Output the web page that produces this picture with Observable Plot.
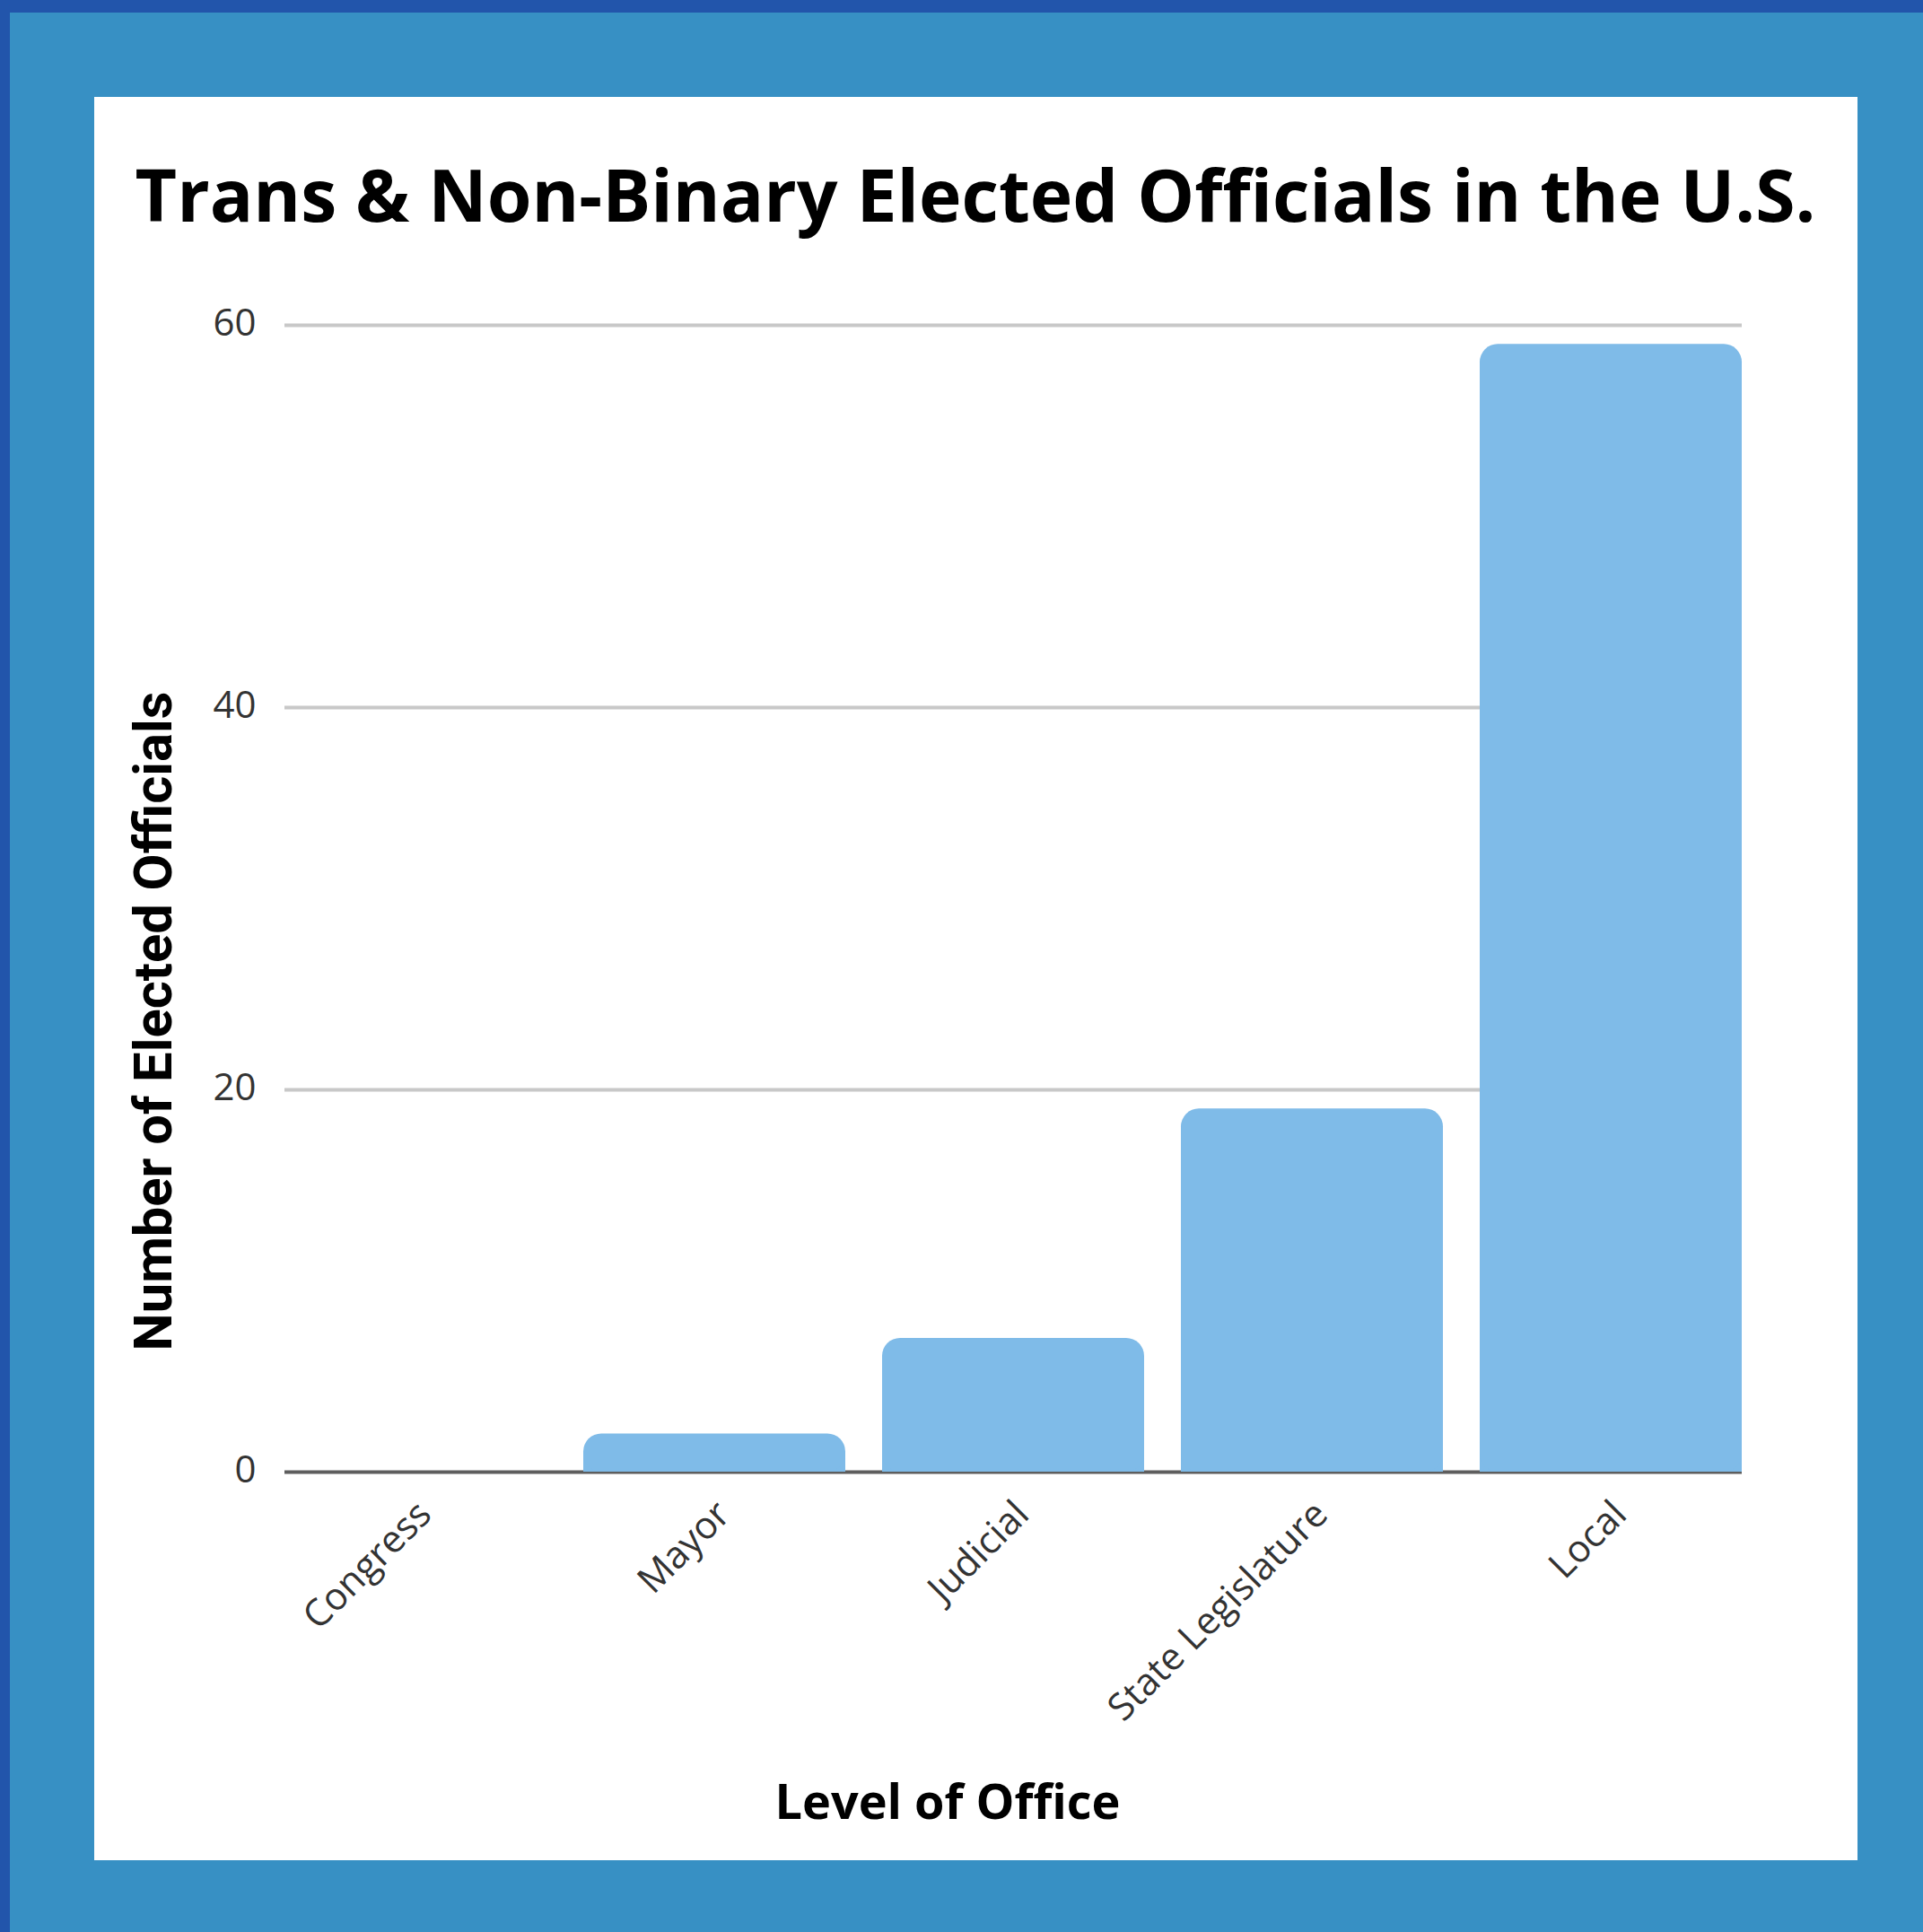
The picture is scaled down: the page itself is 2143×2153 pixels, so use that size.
<!DOCTYPE html>
<html><head><meta charset="utf-8">
<script src="https://cdn.jsdelivr.net/npm/d3@7"></script>
<script src="https://cdn.jsdelivr.net/npm/@observablehq/plot@0.6"></script>
<style>
html,body{margin:0;padding:0;}
body{width:2143px;height:2153px;background:#3790c4;position:relative;overflow:hidden;}
#topbar{position:absolute;left:0;top:0;width:2143px;height:14px;background:#2255ab;}
#leftbar{position:absolute;left:0;top:0;width:11px;height:2153px;background:#2255ab;}
#panel{position:absolute;left:105px;top:108px;width:1965px;height:1965px;background:#fff;}
#chart{position:absolute;left:0;top:0;}
#labels{position:absolute;left:0;top:0;pointer-events:none;}
</style></head><body>
<div id="topbar"></div><div id="leftbar"></div><div id="panel"></div>
<div id="chart"></div>
<script>
const categories = ["Congress", "Mayor", "Judicial", "State Legislature", "Local"];
const counts = [0, 2, 7, 19, 59];
const yTicks = [0, 20, 40, 60];
const titleText = "Trans & Non-Binary Elected Officials in the U.S.";
const xLabelText = "Level of Office";
const yLabelText = "Number of Elected Officials";

const data = categories.map((c, i) => ({category: c, count: counts[i]}));
const barColor = "#7fbbe8";

const chart = Plot.plot({
  width: 2143,
  height: 2153,
  marginLeft: 317,
  marginRight: 202,
  marginTop: 362,
  marginBottom: 513,
  x: {domain: categories, paddingInner: 0.124, paddingOuter: 0, label: null},
  y: {domain: [0, 60], label: null},
  style: {background: "transparent", fontFamily: "'Open Sans', sans-serif", color: "#333"},
  marks: [
    Plot.ruleY(yTicks.filter(t => t > 0), {stroke: "#c8c8c8", strokeWidth: 4}),
    Plot.ruleY([0], {stroke: "#5e5e5e", strokeWidth: 4}),
    Plot.barY(data.filter(d => d.count > 0), {x: "category", y1: 0, y2: d => Math.max(0, d.count - 1), fill: barColor}),
    Plot.barY(data.filter(d => d.count > 0), {x: "category", y: "count", fill: barColor, rx: 20}),
    Plot.axisY({ticks: yTicks, tickSize: 0, tickPadding: 32, fontSize: 42, dy: -2, label: null}),
    Plot.axisX({tickRotate: -45, tickSize: 0, tickPadding: 40, fontSize: 42, dx: 10, label: null})
  ]
});
document.getElementById("chart").appendChild(chart);

const svg = d3.select("body").append("svg").attr("id", "labels")
  .attr("width", 2143).attr("height", 2153);

function fitText(sel, target) {
  const len = sel.node().getComputedTextLength();
  const fs = parseFloat(sel.attr("font-size"));
  sel.attr("font-size", fs * target / len);
}

const t = svg.append("text").text(titleText)
  .attr("x", 1087).attr("y", 247).attr("text-anchor", "middle")
  .attr("font-family", "'Open Sans', sans-serif").attr("font-weight", 700)
  .attr("font-size", 90).attr("fill", "#000");
fitText(t, 1873);

const xl = svg.append("text").text(xLabelText)
  .attr("x", 1056).attr("y", 2027).attr("text-anchor", "middle")
  .attr("font-family", "'Open Sans', sans-serif").attr("font-weight", 700)
  .attr("font-size", 50).attr("fill", "#000");
fitText(xl, 385);

const yl = svg.append("text").text(yLabelText)
  .attr("transform", "translate(191,1138) rotate(-90)").attr("text-anchor", "middle")
  .attr("font-family", "Roboto, sans-serif").attr("font-weight", 700)
  .attr("font-size", 55).attr("fill", "#000");
fitText(yl, 735);
</script>
</body></html>
